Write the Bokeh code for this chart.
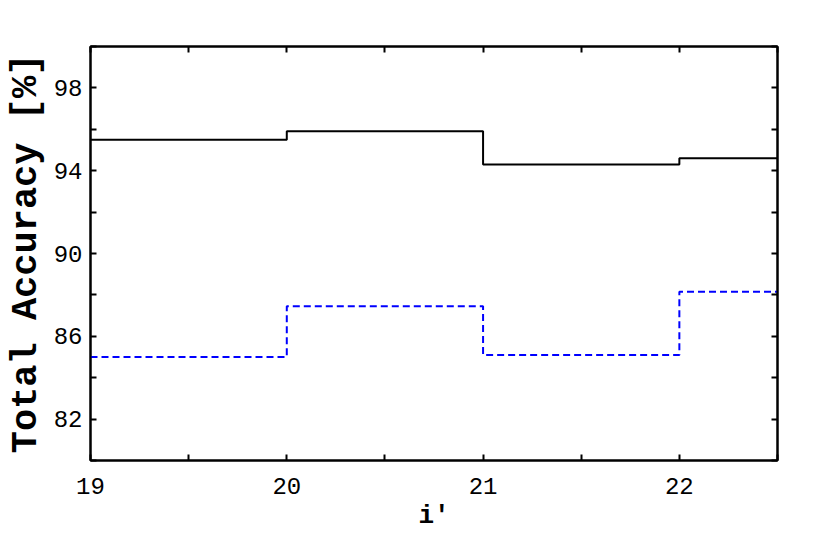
from bokeh.plotting import figure
from bokeh.models import Range1d, FixedTicker, LinearAxis
from bokeh.embed import file_html
from bokeh.resources import INLINE

# data
bin_edges = [19, 20, 21, 22, 22.5]
acc_black = [95.5, 95.9, 94.3, 94.6]
acc_blue = [85.0, 87.45, 85.1, 88.15]

x_ticks = [19, 19.5, 20, 20.5, 21, 21.5, 22, 22.5]
y_ticks = [80, 82, 84, 86, 88, 90, 92, 94, 96, 98, 100]
x_labels = {19: "19", 20: "20", 21: "21", 22: "22"}
y_labels = {82: "82", 86: "86", 90: "90", 94: "94", 98: "98"}

FONT = "Liberation Mono"

p = figure(width=820, height=544, output_backend="svg", toolbar_location=None,
           x_range=Range1d(19, 22.5), y_range=Range1d(80, 100),
           min_border_left=90, min_border_right=43, min_border_top=46, min_border_bottom=84)
p.background_fill_color = "white"
p.border_fill_color = "white"
p.grid.visible = False
p.outline_line_color = "black"
p.outline_line_width = 2

xs = bin_edges
yb = acc_black + [acc_black[-1]]
yl = acc_blue + [acc_blue[-1]]
p.step(xs, yb, mode="after", line_color="black", line_width=2)
p.step(xs, yl, mode="after", line_color="#0000ff", line_width=2, line_dash="7 4")

def style(ax, ticks, labels, show):
    ax.ticker = FixedTicker(ticks=ticks)
    ax.minor_tick_line_color = None
    ax.major_tick_in = 6
    ax.major_tick_out = 0
    ax.major_tick_line_width = 2
    ax.axis_line_width = 2
    ax.major_label_text_font = FONT
    ax.major_label_text_font_size = "24px"
    ax.major_label_text_color = "black"
    if show:
        ax.major_label_overrides = {t: labels.get(t, "") for t in ticks}
    else:
        ax.major_label_overrides = {t: "" for t in ticks}
        ax.major_label_standoff = 0

style(p.xaxis[0], x_ticks, x_labels, True)
style(p.yaxis[0], y_ticks, y_labels, True)
p.xaxis[0].major_label_standoff = 17
p.yaxis[0].major_label_standoff = 8

p.xaxis[0].axis_label = "i'"
p.yaxis[0].axis_label = "Total Accuracy [%]"
for ax in (p.xaxis[0], p.yaxis[0]):
    ax.axis_label_text_font = FONT
    ax.axis_label_text_font_style = "bold"
    ax.axis_label_text_color = "black"
p.xaxis[0].axis_label_text_font_size = "26px"
p.yaxis[0].axis_label_text_font_size = "37px"
p.xaxis[0].axis_label_standoff = 4
p.yaxis[0].axis_label_standoff = 4

top = LinearAxis()
right = LinearAxis()
style(top, x_ticks, x_labels, False)
style(right, y_ticks, y_labels, False)
p.add_layout(top, "above")
p.add_layout(right, "right")

open("out.html", "w").write(file_html(p, INLINE))
